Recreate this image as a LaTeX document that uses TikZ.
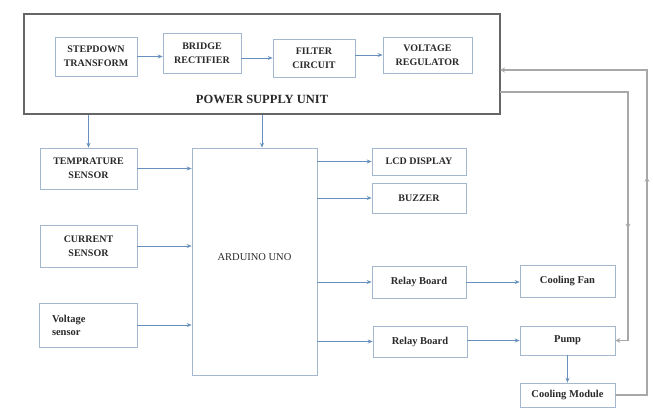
\documentclass[tikz,border=0pt]{standalone}
\usepackage{fontspec}
\setmainfont{Liberation Serif}
\usetikzlibrary{arrows.meta,decorations.markings}
\definecolor{boxline}{HTML}{A3B8CF}
\definecolor{arrowc}{HTML}{6890BE}
\definecolor{loopc}{HTML}{A8A8A8}
\definecolor{txt}{HTML}{2A2A2A}
\tikzset{
  blk/.style={draw=boxline, line width=0.6pt, rectangle, align=center, inner sep=1pt,
              text=txt, font=\fontsize{10}{14}\selectfont\bfseries},
  arr/.style={draw=arrowc, line width=0.9pt, -{Stealth[length=5pt,width=4pt]}},
  loopline/.style={draw=loopc, line width=1.4pt, -{Stealth[length=5pt,width=5pt]}},
  midtip/.style={postaction={decorate}, decoration={markings, mark=at position #1 with {\arrow{Stealth[length=5pt,width=5pt]}}}}
}
\begin{document}
\begin{tikzpicture}[x=1pt,y=-1pt]
\useasboundingbox (0,0) rectangle (653,407);
\fill[white] (0,0) rectangle (653,407);
% power supply unit
\node[draw=gray!80!black, line width=1.1pt, rectangle, minimum width=476pt, minimum height=100pt, inner sep=0pt] (psu) at (262,64) {};
\node[text=txt, font=\fontsize{12.5}{14}\selectfont\bfseries] (psul) at (262,99) {POWER SUPPLY UNIT};
\node[blk, minimum width=82pt, minimum height=39pt] (st) at (96,56.5) {STEPDOWN\\TRANSFORM};
\node[blk, minimum width=78pt, minimum height=40pt] (br) at (202,53) {BRIDGE\\RECTIFIER};
\node[blk, minimum width=82pt, minimum height=38pt] (fc) at (314,58) {FILTER\\CIRCUIT};
\node[blk, minimum width=89pt, minimum height=36pt] (vr) at (427.5,55) {VOLTAGE\\REGULATOR};
% sensors
\node[blk, minimum width=97pt, minimum height=41pt] (ts) at (88.5,168.5) {TEMPRATURE\\SENSOR};
\node[blk, minimum width=97pt, minimum height=42pt] (cs) at (88.5,246) {CURRENT\\SENSOR};
\node[blk, minimum width=98pt, minimum height=44pt, align=left, text width=72pt, font=\fontsize{10.5}{13}\selectfont\bfseries] (vs) at (88,325) {Voltage\\sensor};
% arduino
\node[blk, minimum width=125pt, minimum height=227pt] (ard) at (254.5,261.5) {};
\node[text=txt, font=\fontsize{10.5}{12}\selectfont] (ardl) at (254.5,257) {ARDUINO UNO};
% outputs
\node[blk, minimum width=94pt, minimum height=27pt] (lcd) at (419,161.5) {LCD DISPLAY};
\node[blk, minimum width=94pt, minimum height=30pt] (buz) at (419,198) {BUZZER};
\node[blk, minimum width=94pt, minimum height=32pt, font=\fontsize{10.5}{12}\selectfont\bfseries] (rb1) at (419,282) {Relay Board};
\node[blk, minimum width=94pt, minimum height=31pt, font=\fontsize{10.5}{12}\selectfont\bfseries] (rb2) at (420,341.5) {Relay Board};
\node[blk, minimum width=95pt, minimum height=32pt, font=\fontsize{10.5}{12}\selectfont\bfseries] (fan) at (567.5,281) {Cooling Fan};
\node[blk, minimum width=95pt, minimum height=29pt, font=\fontsize{10.5}{12}\selectfont\bfseries] (pump) at (567.5,340.5) {Pump};
\node[blk, minimum width=95pt, minimum height=24pt, font=\fontsize{10.5}{12}\selectfont\bfseries] (cm) at (567.5,395) {Cooling Module};
% PSU chain
\draw[arr] (st.east) -- (br.west |- st.east);
\draw[arr] (br.east |- fc.west) -- (fc.west);
\draw[arr] (fc.east |- vr.west) -- (vr.west);
% PSU outputs
\draw[arr] (psu.south -| ts.north) -- (ts.north);
\draw[arr] (psu.south) -- (psu.south |- ard.north);
% sensors to arduino
\draw[arr] (ts.east) -- (ts.east -| ard.west);
\draw[arr] (cs.east) -- (cs.east -| ard.west);
\draw[arr] (vs.east) -- (vs.east -| ard.west);
% arduino to outputs
\draw[arr] (ard.east |- lcd.west) -- (lcd.west);
\draw[arr] (ard.east |- buz.west) -- (buz.west);
\draw[arr] (ard.east |- rb1.west) -- (rb1.west);
\draw[arr] (ard.east |- rb2.west) -- (rb2.west);
\draw[arr] (rb1.east) -- (fan.west |- rb1.east);
\draw[arr] (rb2.east |- pump.west) -- (pump.west);
\draw[arr] (pump.south) -- (cm.north);
% loops
\coordinate (r1) at (647,70);
\coordinate (pin) at (500,70);
\coordinate (pout) at (500,92);
\coordinate (r2) at (628,92);
\draw[loopline, midtip=0.496] (cm.east) -| (r1) -- (pin);
\draw[loopline, midtip=0.68] (pout) -- (r2) |- (pump.east);
\end{tikzpicture}
\end{document}
